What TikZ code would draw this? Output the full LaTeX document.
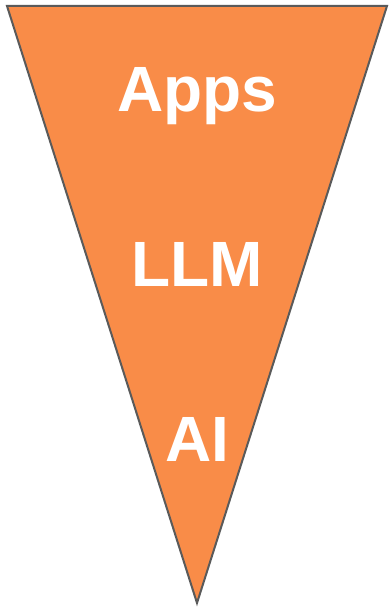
\documentclass[tikz,border=0pt]{standalone}
\usepackage{fontspec}
\setmainfont{Liberation Sans}
\definecolor{funnel}{HTML}{F98C48}
\definecolor{edge}{HTML}{5A5A5A}
\begin{document}
\begin{tikzpicture}[x=1pt,y=1pt,
  lbl/.style={anchor=base,text=white,font=\fontsize{64}{64}\selectfont\bfseries,inner sep=0pt}]
\useasboundingbox (0,0) rectangle (388,607);
\coordinate (tl) at (7,601);
\coordinate (tr) at (387,601);
\coordinate (bt) at (197,4);
\filldraw[fill=funnel,draw=edge,line width=2pt,line join=miter] (tl) -- (tr) -- (bt) -- cycle;
\node[lbl] (apps) at (197,495) {Apps};
\node[lbl] (llm) at (197,320) {LLM};
\node[lbl] (ai) at (197,145) {AI};
\end{tikzpicture}
\end{document}
